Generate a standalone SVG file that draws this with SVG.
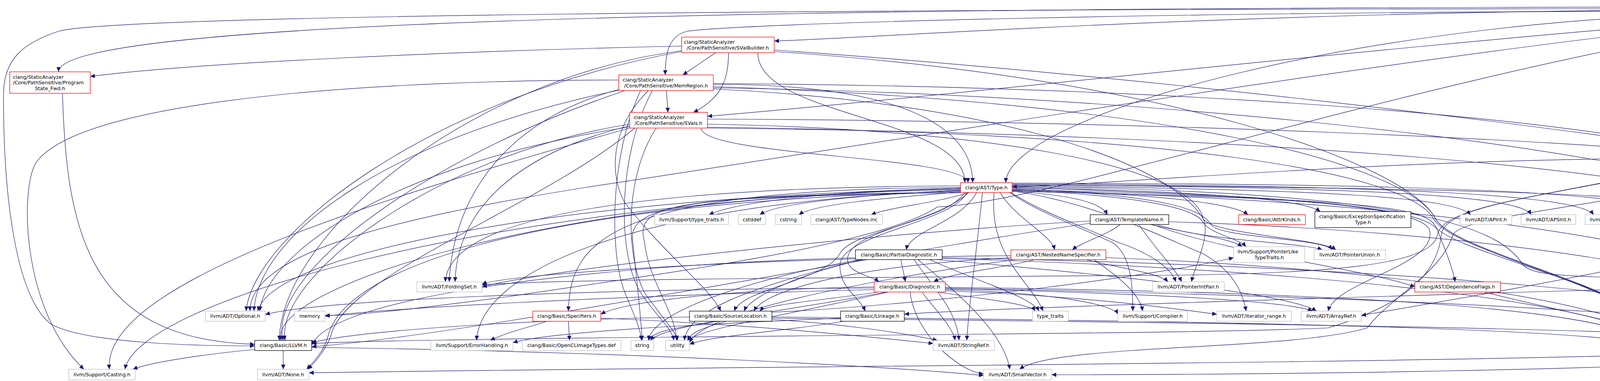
<svg xmlns="http://www.w3.org/2000/svg" width="5576" height="976" viewBox="0 0 5576 976">
<defs>
<style>
text{font-family:"DejaVu Sans","Liberation Sans",Arial,sans-serif;font-size:12.7px;fill:#000}
.c{text-anchor:middle}
.node rect{fill:#fff;stroke-width:1.3}
.r rect{stroke:#ff0000}
.k rect{stroke:#000}
.g rect{stroke:#bfbfbf}
.root rect{fill:#bfbfbf;stroke:#000}
#connectors path{fill:none;stroke:#191970;stroke-width:1.2;marker-end:url(#arrow)}
</style>
<marker id="arrow" viewBox="0 0 12 11" refX="12" refY="5.5" markerWidth="12" markerHeight="11" markerUnits="userSpaceOnUse" orient="auto"><path d="M0,0 L12,5.5 L0,11 z" fill="#191970"/></marker>
</defs>
<rect width="5576" height="976" fill="#fff"/>
<g id="connectors">
<path d="M4572,18 C2300,18 150,40 150,184"/>
<path d="M4572,24 C3200,24 2200,100 1982,105"/>
<path d="M4572,28 C3000,28 1900,60 1760,80 C1715,90 1703,130 1703,192"/>
<path d="M4572,38 C3500,120 2500,240 1811,298"/>
<path d="M4664,46 C4640,150 4510,300 4490,377"/>
<path d="M4740,46 C5000,100 5210,200 5220,288"/>
<path d="M4778,36 C5100,60 5300,80 5430,102"/>
<path d="M4745,46 C4880,150 4926,300 4926,400 C4926,560 4000,720 3485,808"/>
<path d="M4778,40 C5400,80 5372,500 5372,800 C5372,950 3200,960 2692,960"/>
<path d="M4778,43 C5390,90 5360,500 5360,810 C5360,935 2800,925 791,955"/>
<path d="M4572,42 C3600,140 2300,360 1500,480 C1000,560 640,650 640,797"/>
<path d="M4770,46 C4950,150 5030,350 5030,600 C5030,820 4900,870 4781,880"/>
<path d="M4690,46 C4690,400 4380,650 4370,760 C4360,820 4300,850 4285,872"/>
<path d="M4572,45 C3600,200 2700,520 2400,530 C2250,630 1700,700 1300,760 C1000,800 900,808 832,808"/>
<path d="M4572,22 C2000,22 300,40 150,80 C60,110 10,150 9,240 C8,500 40,760 130,830 C220,880 500,886 652,886"/>
<path d="M4572,32 C3500,32 2575,300 2575,468"/>
<path d="M160,239 C170,600 230,870 652,882"/>
<path d="M1745,118 C1200,130 500,160 231,196"/>
<path d="M1832,135 L1748,192"/>
<path d="M1865,135 C1865,200 1850,250 1775,288"/>
<path d="M1982,128 C3000,200 4000,330 4365,385"/>
<path d="M1940,135 C1940,300 2470,300 2470,468"/>
<path d="M1745,130 C1200,200 720,600 715,872"/>
<path d="M1745,132 C1100,250 650,600 630,797"/>
<path d="M1982,132 C3000,200 3600,420 3675,560 C3720,650 4255,750 4255,872"/>
<path d="M1706,232 L1710,288"/>
<path d="M1826,216 C2300,216 2490,320 2490,468"/>
<path d="M1826,214 C3000,220 4000,300 4365,390"/>
<path d="M1600,232 C1100,400 680,700 725,872"/>
<path d="M1660,232 C1560,330 1560,450 1600,520 C1700,650 1820,740 1845,797"/>
<path d="M1600,225 C1300,300 1160,500 1150,722"/>
<path d="M1590,230 C1000,350 660,600 650,797"/>
<path d="M1826,228 C2500,260 2980,400 3080,560 C3100,600 3060,680 3050,722"/>
<path d="M1584,205 C1000,205 200,250 90,420 C50,500 60,800 215,946"/>
<path d="M1826,225 C3000,240 4500,400 4700,600 C4730,650 4735,800 4735,872"/>
<path d="M1826,222 C3000,260 3600,420 3675,560 C3720,650 4250,750 4250,872"/>
<path d="M1640,232 C1560,400 1560,650 1600,750 C1620,800 1640,840 1642,872"/>
<path d="M1670,232 C1580,400 1580,650 1640,750 C1680,810 1720,840 1725,872"/>
<path d="M1811,305 C3000,310 4000,360 4365,395"/>
<path d="M1795,328 C1795,400 2478,400 2478,468"/>
<path d="M1612,318 C1100,400 700,720 730,872"/>
<path d="M1612,322 C1300,400 1170,550 1165,722"/>
<path d="M1625,328 C1400,520 900,700 850,850 C840,890 805,930 788,946"/>
<path d="M1612,325 C1000,420 680,650 665,797"/>
<path d="M1811,318 C2500,330 3050,420 3080,560 C3100,600 3380,610 3420,640"/>
<path d="M1612,328 C1000,500 260,720 280,946"/>
<path d="M1811,328 C3000,340 4500,420 4700,610 C4730,660 4730,800 4730,872"/>
<path d="M1811,326 C3000,340 3600,440 3670,560 C3715,650 4245,750 4245,872"/>
<path d="M1680,328 C1600,450 1600,650 1650,750 C1700,820 1730,850 1735,872"/>
<path d="M4365,405 C3500,405 2800,478 2591,478"/>
<path d="M4365,412 C4000,500 3700,520 3690,600 C3680,700 3600,780 3400,840 C3000,860 1200,860 798,880"/>
<path d="M4365,414 C4000,500 3700,520 3680,600 C3670,680 3400,700 3000,705 C2000,712 1400,716 1234,730"/>
<path d="M4420,418 C4300,520 3760,540 3720,600 C3690,700 3560,760 3500,840 C3300,900 2700,880 2610,946"/>
<path d="M4540,418 C4700,550 4720,750 4735,872"/>
<path d="M5226,329 C5200,700 5000,870 4781,885"/>
<path d="M2459,482 C2100,490 1880,520 1815,550"/>
<path d="M2462,487 C2200,500 1990,520 1945,550"/>
<path d="M2468,491 C2300,505 2090,520 2045,550"/>
<path d="M2480,493 C2400,520 2280,530 2230,550"/>
<path d="M2591,490 C2750,500 2820,520 2835,550"/>
<path d="M2591,485 C2900,495 3150,515 3195,550"/>
<path d="M2591,480 C3000,488 3330,505 3380,542"/>
<path d="M2591,476 C3400,485 3720,505 3765,550"/>
<path d="M2591,473 C3500,480 3890,500 3920,550"/>
<path d="M2591,471 C3600,475 4040,500 4080,550"/>
<path d="M2591,469 C3700,470 4220,495 4270,550"/>
<path d="M2500,493 C2460,570 2330,590 2320,640"/>
<path d="M2560,493 C2600,560 2690,600 2700,640"/>
<path d="M2591,487 C2900,500 3060,530 3080,570 C3100,600 3170,610 3190,632"/>
<path d="M2591,483 C3000,500 3080,540 3100,575 C3120,610 3390,610 3410,640"/>
<path d="M2591,474 C3800,480 4440,500 4456,560 C4470,600 4530,610 4550,640"/>
<path d="M2459,476 C1600,480 1150,560 1140,722"/>
<path d="M2480,493 C2400,570 2180,590 2170,660 C2165,700 2230,705 2250,722"/>
<path d="M2475,493 C2440,570 2150,600 2150,680 C2150,740 2200,760 2215,797"/>
<path d="M2470,493 C2420,570 2180,590 2150,650 C2110,720 1900,740 1880,797"/>
<path d="M2459,480 C1550,485 1460,620 1455,797"/>
<path d="M2591,478 C3700,490 3850,600 3900,680 C3940,720 4150,700 4210,722"/>
<path d="M2591,481 C3300,500 3650,530 3680,590 C3700,640 3720,690 3725,722"/>
<path d="M2588,493 C2660,540 2770,580 2860,620 C2950,650 3000,690 3010,722"/>
<path d="M2585,493 C2650,540 2760,580 2845,620 C2900,650 2900,750 2900,797"/>
<path d="M2591,489 C2800,520 2960,600 3080,650 C3150,690 3180,740 3190,797"/>
<path d="M2591,486 C3300,500 3640,530 3660,590 C3680,680 3420,720 3400,797"/>
<path d="M2459,490 C1300,520 880,700 840,860 C830,900 800,930 785,946"/>
<path d="M2459,484 C1500,500 700,640 660,797"/>
<path d="M2515,493 C2500,650 2480,780 2475,872"/>
<path d="M2459,482 C1200,520 350,780 320,946"/>
<path d="M2459,488 C1600,520 1230,700 1220,872"/>
<path d="M2591,488 C4000,520 4700,700 4720,872"/>
<path d="M2591,490 C3500,510 3650,530 3675,580 C3720,650 4250,750 4255,872"/>
<path d="M2459,492 C1800,500 1600,520 1620,620 C1630,720 1640,800 1644,872"/>
<path d="M2545,493 C2530,660 2640,720 2670,797"/>
<path d="M2459,494 C1750,505 1620,515 1650,620 C1660,720 1730,800 1732,872"/>
<path d="M2459,486 C1400,500 680,740 720,872"/>
<path d="M2867,575 C2840,600 2770,620 2745,640"/>
<path d="M2950,575 C3150,650 3500,690 3622,735"/>
<path d="M2791,572 C2300,640 1200,860 798,888"/>
<path d="M2791,566 C2200,600 1400,690 1234,735"/>
<path d="M2915,575 C2960,640 3010,690 3025,722"/>
<path d="M2960,575 C3100,620 3330,620 3385,640"/>
<path d="M2945,575 C3050,600 3150,610 3180,632"/>
<path d="M2992,568 C4000,600 4650,740 4725,872"/>
<path d="M2650,665 C2550,690 2430,700 2390,722"/>
<path d="M2588,660 C2200,680 1960,740 1930,797"/>
<path d="M2588,655 C2000,660 1300,700 1234,728"/>
<path d="M2780,665 C2880,690 2970,700 2990,722"/>
<path d="M2800,665 C2880,720 2920,760 2925,797"/>
<path d="M2831,660 C3400,680 4150,760 4240,872"/>
<path d="M2600,665 C2200,720 1800,800 1765,878"/>
<path d="M2306,665 L2318,722"/>
<path d="M2190,660 C1500,680 850,760 798,884"/>
<path d="M2210,665 C2050,700 1920,760 1905,797"/>
<path d="M2400,665 C2800,700 3300,750 3370,797"/>
<path d="M2350,665 C2450,750 2570,850 2585,946"/>
<path d="M2340,665 C2400,750 2450,800 2455,872"/>
<path d="M2412,660 C3500,680 4600,760 4712,880"/>
<path d="M2412,662 C3400,690 4150,780 4235,880"/>
<path d="M2200,665 C1900,720 1670,800 1660,872"/>
<path d="M2380,665 C2500,720 2640,760 2660,797"/>
<path d="M2205,665 C1900,740 1760,800 1752,872"/>
<path d="M2250,748 C2100,770 1960,780 1945,797"/>
<path d="M2238,735 C1900,740 1600,770 1538,805"/>
<path d="M2420,740 C2900,750 3300,770 3360,797"/>
<path d="M2238,738 C1500,740 800,770 679,806"/>
<path d="M2330,748 C2340,850 2450,950 2518,958"/>
<path d="M2360,748 C2400,800 2440,840 2445,872"/>
<path d="M2420,745 C2800,760 3000,790 3115,805"/>
<path d="M2420,742 C2700,750 2850,780 2862,805"/>
<path d="M2420,738 C3500,760 4500,800 4712,880"/>
<path d="M2420,736 C3500,750 4100,790 4235,880"/>
<path d="M2238,742 C1500,760 1000,790 832,810"/>
<path d="M2270,748 C2000,800 1700,830 1665,872"/>
<path d="M2400,748 C2550,770 2640,780 2650,797"/>
<path d="M2275,748 C2000,810 1800,840 1760,872"/>
<path d="M1538,815 C1900,830 2200,860 2389,880"/>
<path d="M1400,823 C1350,840 1300,850 1255,872"/>
<path d="M1455,823 L1458,872"/>
<path d="M1765,812 C1300,820 900,850 798,878"/>
<path d="M1976,818 C2150,830 2300,850 2400,872"/>
<path d="M1976,800 C2400,780 3000,700 3158,660"/>
<path d="M1976,815 C3500,830 4500,850 4712,885"/>
<path d="M1976,812 C3500,825 4100,850 4235,885"/>
<path d="M1840,823 C1720,840 1670,850 1660,872"/>
<path d="M1860,823 C1800,840 1770,850 1760,872"/>
<path d="M2152,815 C1800,830 1400,850 1313,878"/>
<path d="M2160,823 C2000,850 1820,860 1765,882"/>
<path d="M4185,740 C3500,760 2500,790 2315,805"/>
<path d="M4300,748 C4500,800 4650,840 4720,872"/>
<path d="M4268,748 L4268,872"/>
<path d="M4620,665 C4680,750 4720,800 4735,872"/>
<path d="M3800,748 C4000,800 4200,830 4245,872"/>
<path d="M652,895 C500,910 380,930 340,946"/>
<path d="M725,898 L725,946"/>
<path d="M798,890 C1600,900 2300,940 2518,962"/>
</g>
<g id="n-store" class="node root"><rect x="4572" y="6" width="206" height="40"/><text x="4582" y="22.5">include/clang/StaticAnalyzer</text><text class="c" x="4675" y="37.5">/Core/PathSensitive/Store.h</text></g>
<g id="n-pfwd" class="node r"><rect x="25" y="184" width="206" height="55"/><text x="33" y="201.5">clang/StaticAnalyzer</text><text x="33" y="216">/Core/PathSensitive/Program</text><text class="c" x="128" y="230.5">State_Fwd.h</text></g>
<g id="n-svalb" class="node r"><rect x="1745" y="95" width="237" height="40"/><text x="1751" y="111.5">clang/StaticAnalyzer</text><text class="c" x="1863" y="126.5">/Core/PathSensitive/SValBuilder.h</text></g>
<g id="n-memr" class="node r"><rect x="1584" y="192" width="242" height="40"/><text x="1594" y="208.5">clang/StaticAnalyzer</text><text class="c" x="1705" y="223.5">/Core/PathSensitive/MemRegion.h</text></g>
<g id="n-svals" class="node r"><rect x="1612" y="288" width="199" height="40"/><text x="1622" y="304.5">clang/StaticAnalyzer</text><text class="c" x="1711" y="319.5">/Core/PathSensitive/SVals.h</text></g>
<g id="n-symexpr" class="node r"><rect x="4365" y="377" width="221" height="41"/><text x="4375" y="393.5">clang/StaticAnalyzer</text><text class="c" x="4475" y="408.5">/Core/PathSensitive/SymExpr.h</text></g>
<g id="n-storeref" class="node k"><rect x="5118" y="288" width="217" height="41"/><text x="5128" y="304.5">clang/StaticAnalyzer</text><text class="c" x="5226" y="319.5">/Core/PathSensitive/StoreRef.h</text></g>
<g id="n-denseset" class="node g"><rect x="5411" y="102" width="160" height="26"/><text class="c" x="5491" y="119">llvm/ADT/DenseSet.h</text></g>
<g id="n-type" class="node r"><rect x="2459" y="468" width="132" height="25"/><text class="c" x="2525" y="484.5">clang/AST/Type.h</text></g>
<g id="n-tt_h" class="node g"><rect x="1676" y="550" width="189" height="25"/><text class="c" x="1770" y="566.5">llvm/Support/type_traits.h</text></g>
<g id="n-cstddef" class="node g"><rect x="1890" y="550" width="70" height="25"/><text class="c" x="1925" y="566.5">cstddef</text></g>
<g id="n-cstring" class="node g"><rect x="1985" y="550" width="67" height="25"/><text class="c" x="2018" y="566.5">cstring</text></g>
<g id="n-typenodes" class="node g"><rect x="2076" y="550" width="183" height="25"/><text class="c" x="2167" y="566.5">clang/AST/TypeNodes.inc</text></g>
<g id="n-templatename" class="node k"><rect x="2791" y="550" width="201" height="25"/><text class="c" x="2891" y="566.5">clang/AST/TemplateName.h</text></g>
<g id="n-attrkinds" class="node r"><rect x="3171" y="550" width="171" height="25"/><text class="c" x="3256" y="566.5">clang/Basic/AttrKinds.h</text></g>
<g id="n-exspec" class="node k"><rect x="3366" y="542" width="246" height="41"/><text x="3377" y="558.5">clang/Basic/ExceptionSpecification</text><text class="c" x="3489" y="573.5">Type.h</text></g>
<g id="n-apint" class="node g"><rect x="3738" y="550" width="132" height="25"/><text class="c" x="3804" y="566.5">llvm/ADT/APInt.h</text></g>
<g id="n-apsint" class="node g"><rect x="3894" y="550" width="140" height="25"/><text class="c" x="3964" y="566.5">llvm/ADT/APSInt.h</text></g>
<g id="n-twine" class="node g"><rect x="4058" y="550" width="133" height="25"/><text class="c" x="4124" y="566.5">llvm/ADT/Twine.h</text></g>
<g id="n-trailing" class="node g"><rect x="4217" y="550" width="217" height="25"/><text class="c" x="4325" y="566.5">llvm/Support/TrailingObjects.h</text></g>
<g id="n-partialdiag" class="node k"><rect x="2190" y="640" width="222" height="25"/><text class="c" x="2301" y="656.5">clang/Basic/PartialDiagnostic.h</text></g>
<g id="n-nns" class="node r"><rect x="2588" y="640" width="243" height="25"/><text class="c" x="2709" y="656.5">clang/AST/NestedNameSpecifier.h</text></g>
<g id="n-pltt" class="node g"><rect x="3158" y="632" width="182" height="41"/><text x="3168" y="648.5">llvm/Support/PointerLike</text><text class="c" x="3249" y="663.5">TypeTraits.h</text></g>
<g id="n-punion" class="node g"><rect x="3364" y="640" width="183" height="25"/><text class="c" x="3455" y="656.5">llvm/ADT/PointerUnion.h</text></g>
<g id="n-addrspaces" class="node k"><rect x="4478" y="640" width="210" height="25"/><text class="c" x="4583" y="656.5">clang/Basic/AddressSpaces.h</text></g>
<g id="n-foldingset" class="node g"><rect x="1067" y="722" width="167" height="26"/><text class="c" x="1150" y="739">llvm/ADT/FoldingSet.h</text></g>
<g id="n-diag" class="node r"><rect x="2238" y="722" width="182" height="26"/><text class="c" x="2329" y="739">clang/Basic/Diagnostic.h</text></g>
<g id="n-pintpair" class="node g"><rect x="2951" y="722" width="183" height="26"/><text class="c" x="3042" y="739">llvm/ADT/PointerIntPair.h</text></g>
<g id="n-depflags" class="node r"><rect x="3622" y="722" width="219" height="26"/><text class="c" x="3731" y="739">clang/AST/DependenceFlags.h</text></g>
<g id="n-visibility" class="node k"><rect x="4185" y="722" width="166" height="26"/><text class="c" x="4268" y="739">clang/Basic/Visibility.h</text></g>
<g id="n-optional" class="node g"><rect x="526" y="797" width="153" height="26"/><text class="c" x="602" y="814">llvm/ADT/Optional.h</text></g>
<g id="n-memory" class="node g"><rect x="754" y="797" width="78" height="26"/><text class="c" x="793" y="814">memory</text></g>
<g id="n-specifiers" class="node r"><rect x="1364" y="797" width="174" height="26"/><text class="c" x="1451" y="814">clang/Basic/Specifiers.h</text></g>
<g id="n-srcloc" class="node k"><rect x="1765" y="797" width="211" height="26"/><text class="c" x="1870" y="814">clang/Basic/SourceLocation.h</text></g>
<g id="n-linkage" class="node k"><rect x="2152" y="797" width="163" height="26"/><text class="c" x="2233" y="814">clang/Basic/Linkage.h</text></g>
<g id="n-type_traits" class="node g"><rect x="2643" y="797" width="92" height="26"/><text class="c" x="2689" y="814">type_traits</text></g>
<g id="n-compiler" class="node g"><rect x="2862" y="797" width="178" height="26"/><text class="c" x="2951" y="814">llvm/Support/Compiler.h</text></g>
<g id="n-iterrange" class="node g"><rect x="3115" y="797" width="191" height="26"/><text class="c" x="3210" y="814">llvm/ADT/iterator_range.h</text></g>
<g id="n-arrayref" class="node g"><rect x="3331" y="797" width="154" height="26"/><text class="c" x="3408" y="814">llvm/ADT/ArrayRef.h</text></g>
<g id="n-llvm_h" class="node k"><rect x="652" y="872" width="146" height="26"/><text class="c" x="725" y="889">clang/Basic/LLVM.h</text></g>
<g id="n-errhandling" class="node g"><rect x="1103" y="872" width="210" height="26"/><text class="c" x="1208" y="889">llvm/Support/ErrorHandling.h</text></g>
<g id="n-opencl" class="node g"><rect x="1337" y="872" width="253" height="26"/><text class="c" x="1463" y="889">clang/Basic/OpenCLImageTypes.def</text></g>
<g id="n-string" class="node g"><rect x="1615" y="872" width="58" height="26"/><text class="c" x="1644" y="889">string</text></g>
<g id="n-utility" class="node g"><rect x="1704" y="872" width="61" height="26"/><text class="c" x="1734" y="889">utility</text></g>
<g id="n-stringref" class="node g"><rect x="2389" y="872" width="157" height="26"/><text class="c" x="2467" y="889">llvm/ADT/StringRef.h</text></g>
<g id="n-cstdint" class="node g"><rect x="4235" y="872" width="66" height="26"/><text class="c" x="4268" y="889">cstdint</text></g>
<g id="n-cassert" class="node g"><rect x="4712" y="872" width="69" height="26"/><text class="c" x="4746" y="889">cassert</text></g>
<g id="n-casting" class="node g"><rect x="176" y="946" width="170" height="27"/><text class="c" x="261" y="963.5">llvm/Support/Casting.h</text></g>
<g id="n-none" class="node g"><rect x="659" y="946" width="132" height="27"/><text class="c" x="725" y="963.5">llvm/ADT/None.h</text></g>
<g id="n-smallvector" class="node g"><rect x="2518" y="946" width="174" height="27"/><text class="c" x="2605" y="963.5">llvm/ADT/SmallVector.h</text></g>
</svg>
